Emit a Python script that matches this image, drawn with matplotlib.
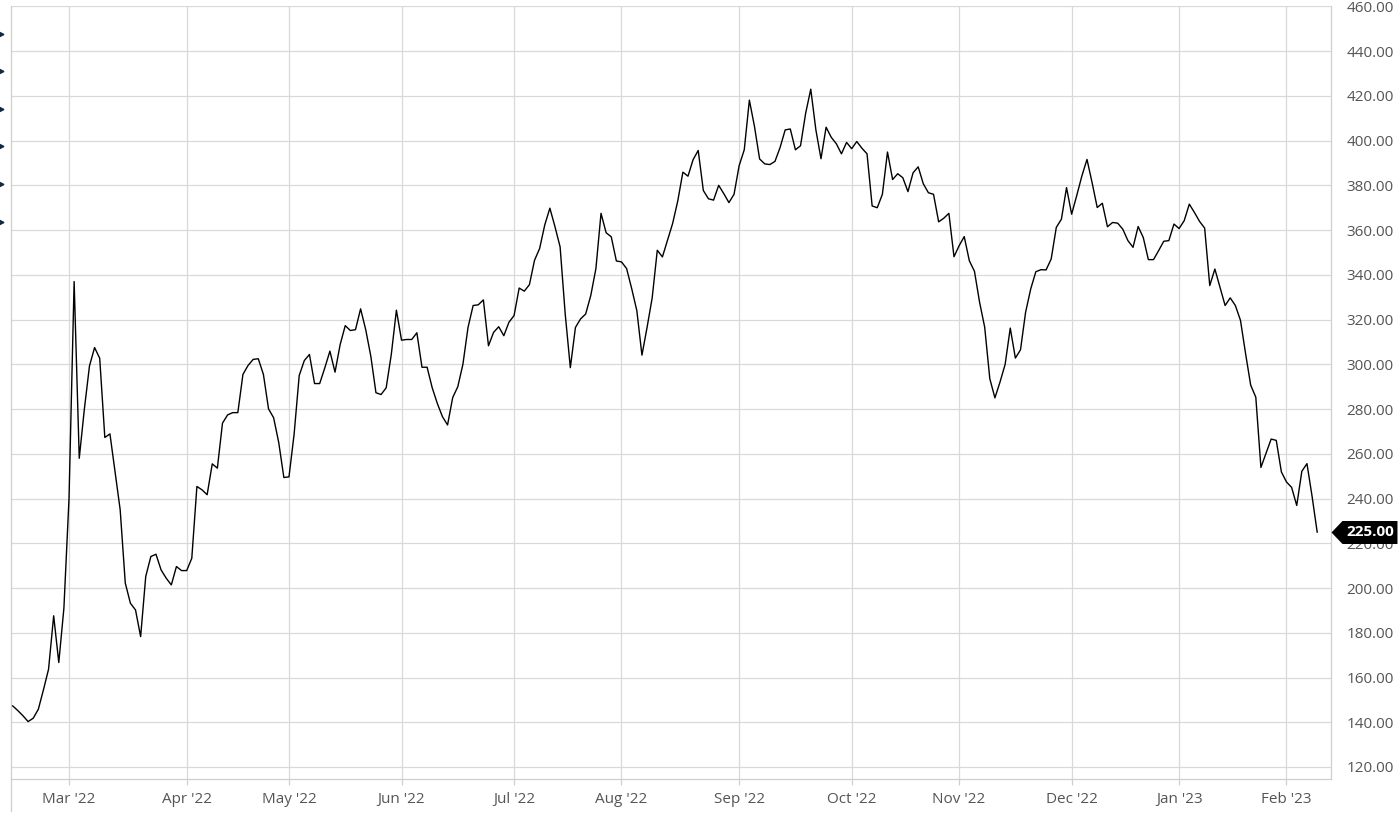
import matplotlib.pyplot as plt
from matplotlib.lines import Line2D
from matplotlib.path import Path
import numpy as np
import pandas as pd

plt.rcParams['font.family'] = ['Open Sans', 'DejaVu Sans']

# daily closing prices (14 Feb 2022 - 9 Feb 2023)
close_prices = [
    147.3, 145.2, 142.9, 140.3, 141.8, 145.8, 154.5, 163.7, 187.6, 166.7,
    191.0, 240.0, 337.0, 258.0, 280.0, 299.3, 307.5, 302.7, 267.3, 268.9,
    252.0, 235.0, 202.2, 193.2, 190.2, 178.3, 205.2, 214.1, 215.1, 208.1,
    204.4, 201.4, 209.6, 207.8, 207.8, 213.3, 245.4, 243.9, 241.7, 255.5,
    253.6, 273.7, 277.4, 278.4, 278.4, 295.5, 299.5, 302.2, 302.5, 295.5,
    280.1, 276.1, 265.0, 249.4, 249.7, 268.7, 295.0, 301.7, 304.4, 291.4,
    291.4, 298.4, 305.9, 296.5, 308.8, 317.3, 315.1, 315.5, 324.8, 315.5,
    303.6, 287.3, 286.5, 289.5, 304.4, 324.2, 310.8, 311.1, 311.1, 314.1,
    298.7, 298.7, 289.5, 282.5, 276.6, 272.9, 285.1, 290.0, 300.0, 316.5,
    326.3, 326.6, 328.8, 308.3, 314.3, 316.8, 312.8, 318.8, 321.8, 334.1,
    332.7, 335.6, 346.5, 351.8, 362.3, 369.8, 361.5, 352.5, 322.5, 298.5,
    316.5, 320.3, 322.5, 330.8, 342.8, 367.5, 358.8, 357.0, 346.2, 345.8,
    342.8, 333.8, 324.0, 304.1, 316.5, 329.7, 351.0, 348.0, 355.5, 363.0,
    373.0, 385.9, 384.1, 391.5, 395.6, 377.7, 374.0, 373.4, 380.0, 376.3,
    372.3, 376.0, 388.8, 395.9, 418.1, 406.3, 391.8, 389.6, 389.3, 390.7,
    396.9, 404.8, 405.2, 395.9, 397.7, 412.2, 423.0, 404.8, 391.9, 406.0,
    401.5, 398.6, 394.1, 399.2, 396.4, 399.6, 396.6, 394.1, 370.8, 370.0,
    376.0, 394.9, 382.6, 385.2, 383.4, 377.2, 385.6, 388.3, 380.7, 376.7,
    376.0, 363.7, 365.3, 367.5, 348.1, 353.0, 357.1, 346.3, 341.6, 327.8,
    316.6, 293.6, 285.0, 292.1, 300.0, 316.2, 302.8, 306.5, 323.3, 333.7,
    341.4, 342.3, 342.2, 347.1, 361.2, 364.9, 379.0, 367.1, 375.5, 384.2,
    391.6, 381.2, 370.1, 372.0, 361.5, 363.4, 363.1, 360.4, 355.3, 352.3,
    361.6, 356.7, 346.8, 346.8, 350.8, 355.0, 355.3, 362.7, 360.7, 364.2,
    371.6, 367.9, 363.9, 360.9, 335.2, 342.6, 334.5, 326.3, 329.7, 326.3,
    319.7, 304.8, 290.7, 285.3, 253.9, 260.3, 266.6, 266.0, 251.9, 247.4,
    245.0, 236.9, 252.2, 255.6, 241.0, 225.0,
]

holidays = ['2022-04-15', '2022-12-26', '2023-01-02']
trade_dates = pd.bdate_range('2022-02-14', '2023-02-09')
trade_dates = trade_dates[~trade_dates.isin(pd.to_datetime(holidays))]

y_ticks = list(range(120, 461, 20))

grid_col = '#d9d9d9'
text_col = '#555555'

fig = plt.figure(figsize=(13.99, 8.16), dpi=100)
ax = fig.add_axes([10.7 / 1399, 36.7 / 816, 1320.3 / 1399, 773.8 / 816])

x = np.arange(len(close_prices))
ax.plot(x, close_prices, color='black', lw=1.0, zorder=3)
ax.set_xlim(-0.4, 257.7)
ax.set_ylim(114.5, 460.4)

# month ticks on the first trading day of each month
month_starts = [i for i in range(1, len(trade_dates))
                if trade_dates[i].month != trade_dates[i - 1].month]
ax.set_xticks(month_starts, [trade_dates[i].strftime("%b '%y") for i in month_starts])
ax.set_yticks(y_ticks, [f'{v:.2f}' for v in y_ticks])
ax.yaxis.tick_right()
ax.tick_params(axis='y', length=0, pad=11, labelsize=11, labelcolor=text_col)
ax.tick_params(axis='x', length=4.5, width=0.9, color='#d0d0d0', pad=5,
               labelsize=11, labelcolor=text_col)

ax.grid(True, color=grid_col, lw=0.9)
ax.set_axisbelow(True)
ax.spines['top'].set_visible(False)
for side in ['left', 'right', 'bottom']:
    ax.spines[side].set_color('#cfcfcf')
    ax.spines[side].set_linewidth(0.9)

# last price tag on the right axis
last = close_prices[-1]
tag = Path([(0, 0), (11, 11.5), (66, 11.5), (66, -11.5), (11, -11.5), (0, 0)],
           [Path.MOVETO] + [Path.LINETO] * 4 + [Path.CLOSEPOLY])
ax.plot([1.0], [last], transform=ax.get_yaxis_transform(), marker=tag,
        markersize=95, color='black', mec='none', clip_on=False, zorder=5)
ax.annotate(f'{last:.2f}', xy=(1.0, last), xycoords=ax.get_yaxis_transform(),
            xytext=(28, 0), textcoords='offset points', ha='center', va='center',
            color='white', fontsize=11, fontweight='bold', zorder=6,
            annotation_clip=False)

# left axis line running below the plot, and the small toolbar arrows
fig.add_artist(Line2D([10.7 / 1399] * 2, [5 / 816, 37 / 816], color='#cfcfcf', lw=0.9))
for k in range(6):
    fig.add_artist(Line2D([1.2 / 1399], [1 - (33.5 + 37.6 * k) / 816],
                          marker='>', markersize=3.5, color='#0e2a47', lw=0))

fig.savefig('out.png', dpi=100)
